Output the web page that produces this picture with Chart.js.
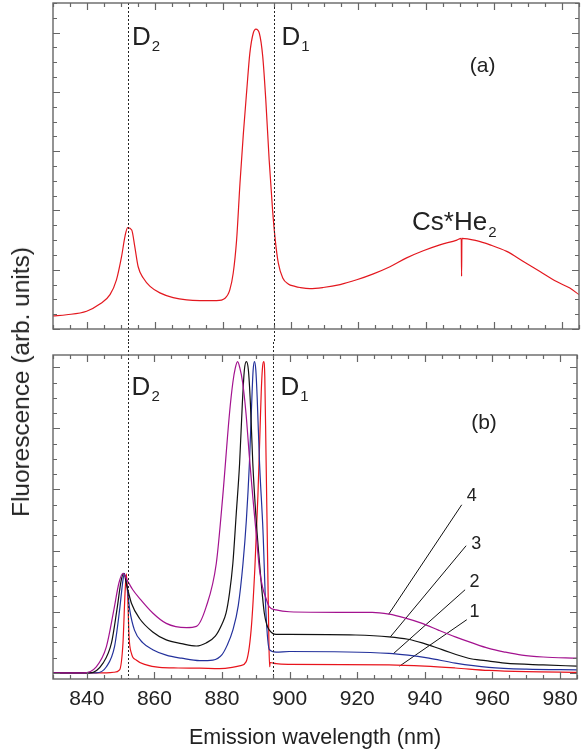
<!DOCTYPE html>
<html>
<head>
<meta charset="utf-8">
<script src="https://cdn.jsdelivr.net/npm/chart.js@4.4.1/dist/chart.umd.min.js"></script>
<style>
html,body{margin:0;padding:0;background:#fff;}
#wrap{position:relative;width:585px;height:755px;overflow:hidden;}
#cTop{position:absolute;left:0;top:0;}
#cBot{position:absolute;left:0;top:342px;}
#ytitle{position:absolute;left:21px;top:382px;transform:translate(-50%,-50%) rotate(-90deg);
  font:24.4px 'Liberation Sans',Arial,sans-serif;color:#222;white-space:nowrap;}
</style>
</head>
<body>
<div id="wrap">
  <canvas id="cTop" width="585" height="342"></canvas>
  <canvas id="cBot" width="585" height="413"></canvas>
  <div id="ytitle">Fluorescence (arb. units)</div>
</div>
<script>
'use strict';

/* ── DATA ────────────────────────────────────────────────── */
const X_MIN = 830, X_MAX = 985;
const X_LABELS = [840, 860, 880, 900, 920, 940, 960, 980];
const D2_NM = 852.1, D1_NM = 895.2;

// (a) measured spectrum
const A_NM  = [830, 834, 839.9, 843.8, 846.8, 848.7, 850.2, 851.2, 852.0, 853.2, 854.1, 855.1, 856.6, 858.6, 861.5,
               865.4, 869.4, 873.3, 878.2, 880.7, 882.1, 883.1, 884.1, 885.1, 886.1, 887.1, 888.0, 889.0, 889.8, 890.8,
               891.8, 892.7, 893.7, 894.7, 895.5, 896.4, 897.7, 899.3, 901.3, 902.8, 905.7, 909.6, 914.6, 919.5, 924.4,
               929.3, 934.2, 939.1, 944.0, 949.0, 950.3, 950.4, 950.5, 954.8, 958.8, 963.7, 968.6, 973.5, 978.4, 982.3, 985];
const A_VAL = [0.22, 0.24, 0.30, 0.42, 0.58, 0.83, 1.22, 1.56, 1.71, 1.67, 1.39, 1.05, 0.86, 0.72, 0.61,
               0.53, 0.49, 0.48, 0.48, 0.52, 0.66, 0.94, 1.50, 2.46, 3.30, 4.03, 4.65, 4.99, 5.06, 4.99,
               4.60, 3.87, 2.85, 2.01, 1.50, 1.11, 0.86, 0.76, 0.72, 0.70, 0.68, 0.70, 0.75, 0.83, 0.93,
               1.05, 1.20, 1.32, 1.42, 1.50, 1.53, 0.89, 1.53, 1.49, 1.42, 1.31, 1.14, 0.97, 0.80, 0.69, 0.58];

// (b) simulated curves 1..4
const C1_NM = [830, 845, 848, 849.7, 850.7, 851.3, 851.7, 852.1, 852.5, 853.2, 854.6, 857.6, 861.5, 867, 873.4,
               879.3, 883, 885.5, 887.1, 888.6, 889.7, 890.6, 891.2, 891.6, 891.95, 892.3, 892.65, 893.0, 893.5, 893.9,
               894.1, 894.2, 896, 900, 929.4, 940, 949, 958.9, 970, 985];
const C1_Y  = [0, 0, 0.01, 0.05, 0.49, 1.30, 1.62, 1.25, 0.59, 0.32, 0.21, 0.13, 0.09, 0.08, 0.077,
               0.07, 0.09, 0.12, 0.18, 0.70, 1.7, 2.88, 3.9, 4.6, 4.98, 5.09, 4.85, 3.6, 1.8, 0.4,
               0.10, 0.17, 0.15, 0.14, 0.13, 0.11, 0.08, 0.04, 0.02, 0.01];

const C2_NM = [830, 842.8, 845.8, 848.2, 849.7, 850.7, 851.1, 851.9, 852.7, 854.1, 856.6, 859.5, 863.5, 868, 873.4,
               877.3, 880, 881.5, 883.2, 884.8, 886.2, 887.2, 888.1, 888.9, 889.2, 889.6, 890.0, 890.4, 891.1, 892.1,
               893.0, 894.0, 896, 899.9, 929.4, 935, 941.2, 949, 958.9, 970, 985];
const C2_Y  = [0, 0, 0.10, 0.43, 1.03, 1.52, 1.63, 1.41, 1.03, 0.70, 0.49, 0.38, 0.29, 0.24, 0.20,
               0.21, 0.3, 0.45, 0.70, 1.1, 1.79, 2.5, 3.43, 4.6, 4.95, 5.09, 4.95, 4.5, 3.43, 2.34,
               0.98, 0.38, 0.34, 0.35, 0.32, 0.29, 0.24, 0.16, 0.09, 0.06, 0.05];

const C3_NM = [830, 840.9, 844.8, 847.3, 848.9, 850.2, 850.9, 851.9, 853.2, 855.6, 859.5, 863.5, 868, 872.4, 875.3,
               878, 880, 881.2, 882.2, 883.2, 884.2, 885.2, 886.0, 886.6, 887.2, 887.8, 888.4, 889.1, 890.1, 891.1,
               892.5, 893.3, 894.0, 896, 899.9, 919.5, 929.4, 935, 939.2, 945.1, 952.9, 958, 963.7, 975, 985];
const C3_Y  = [0, 0, 0.16, 0.49, 1.03, 1.52, 1.63, 1.41, 1.14, 0.89, 0.67, 0.54, 0.48, 0.44, 0.49,
               0.6, 0.8, 0.98, 1.3, 1.79, 2.6, 3.43, 4.4, 4.95, 5.09, 4.95, 4.4, 3.43, 2.5, 1.79,
               0.98, 0.78, 0.70, 0.63, 0.63, 0.62, 0.59, 0.55, 0.49, 0.38, 0.24, 0.20, 0.16, 0.13, 0.11];

const C4_NM = [830, 838.9, 842.8, 845.8, 848.0, 849.5, 850.7, 851.9, 853.6, 855.6, 859.5, 863.5, 869.5, 872.4, 875.3,
               878.3, 880.2, 882.2, 883.2, 883.9, 884.6, 885.3, 886.1, 887.1, 888.1, 889.1, 890.1, 891.1, 892.0, 893.0,
               894.0, 896, 899.9, 914.6, 924.4, 929.4, 934, 939.2, 944, 949, 954, 958.9, 963.7, 968.7, 975, 985];
const C4_Y  = [0, 0, 0.10, 0.43, 1.03, 1.47, 1.63, 1.52, 1.36, 1.22, 0.98, 0.81, 0.74, 0.76, 1.08,
               1.79, 2.88, 4.24, 4.75, 4.98, 5.09, 4.98, 4.75, 4.24, 3.53, 2.88, 2.28, 1.68, 1.40, 1.22,
               1.08, 1.03, 1.0, 0.99, 0.99, 0.96, 0.9, 0.81, 0.7, 0.59, 0.49, 0.40, 0.34, 0.29, 0.26, 0.24];

// leader lines for the curve numbers (curve 1..4)
const CURVE_NAMES  = ['1', '2', '3', '4'];
const LEAD_FROM_NM = [952.4, 951.9, 952.2, 950.9];
const LEAD_FROM_Y  = [0.87, 1.36, 2.08, 2.75];
const LEAD_TO_NM   = [932.5, 930.6, 929.8, 929.3];
const LEAD_TO_Y    = [0.11, 0.31, 0.59, 0.96];
const NAME_NM      = [954.7, 954.7, 955.2, 953.9];
const NAME_Y       = [0.99, 1.48, 2.11, 2.90];

/* ── HELPERS ─────────────────────────────────────────────── */
const FONT = "'Liberation Sans', Arial, sans-serif";
const pts = (xs, ys) => xs.map((v, i) => ({ x: v, y: ys[i] }));
const curve = (xs, ys, color) => ({
  data: pts(xs, ys), borderColor: color, borderWidth: 1.2, pointRadius: 0,
  cubicInterpolationMode: 'monotone', fill: false
});

/* ── FRAME, INNER TICKS, REFERENCE LINES, LABELS ─────────── */
const panelDeco = {
  id: 'panelDeco',
  afterDatasetsDraw(chart, args, o) {
    const { ctx, chartArea: a, scales: { x, y } } = chart;
    ctx.save();

    // dotted D2 / D1 lines, running through the gap between panels
    ctx.strokeStyle = '#222'; ctx.lineWidth = 1; ctx.setLineDash([2, 2]);
    [D2_NM, D1_NM].forEach(nm => {
      const px = Math.round(x.getPixelForValue(nm)) + 0.5;
      ctx.beginPath();
      ctx.moveTo(px, o.lineTop === 'edge' ? 0 : a.top);
      ctx.lineTo(px, o.lineBottom === 'edge' ? chart.height : a.bottom);
      ctx.stroke();
    });
    ctx.setLineDash([]);

    // frame
    ctx.strokeStyle = '#666'; ctx.lineWidth = 1.4;
    ctx.strokeRect(a.left, a.top, a.right - a.left, a.bottom - a.top);

    // inner ticks on all four sides
    ctx.lineWidth = 1.2;
    ctx.beginPath();
    for (let k = Math.ceil(x.min / 5); k * 5 <= x.max; k++) {
      const v = k * 5, px = Math.round(x.getPixelForValue(v)) + 0.5;
      const len = v % 20 === 0 ? 7 : 4;
      ctx.moveTo(px, a.bottom); ctx.lineTo(px, a.bottom - len);
      ctx.moveTo(px, a.top);    ctx.lineTo(px, a.top + len);
    }
    for (let k = Math.ceil(y.min / 0.25 - 1e-9); k * 0.25 <= y.max + 1e-9; k++) {
      const py = Math.round(y.getPixelForValue(k * 0.25)) + 0.5;
      const len = k % 4 === 0 ? 7 : 4;
      ctx.moveTo(a.left, py);  ctx.lineTo(a.left + len, py);
      ctx.moveTo(a.right, py); ctx.lineTo(a.right - len, py);
    }
    ctx.stroke();

    // text labels
    ctx.fillStyle = '#222';
    (o.texts || []).forEach(t => {
      const px = x.getPixelForValue(t.x), py = y.getPixelForValue(t.y);
      ctx.font = `${t.size}px ${FONT}`;
      ctx.textAlign = t.align || 'left';
      ctx.textBaseline = t.base || 'alphabetic';
      ctx.fillText(t.text, px, py);
      if (t.sub) {
        const w = ctx.measureText(t.text).width;
        ctx.font = `${t.subSize}px ${FONT}`;
        ctx.fillText(t.sub, px + w + 1, py + t.drop);
      }
    });
    ctx.restore();
  }
};

const baseOpts = (pad) => ({
  responsive: false, animation: false, devicePixelRatio: 1,
  layout: { padding: pad },
  plugins: { legend: { display: false }, tooltip: { enabled: false } },
  elements: { point: { radius: 0 } }
});

/* ── (a) ─────────────────────────────────────────────────── */
const optsA = baseOpts({ left: 53, right: 6, top: 3, bottom: 13 });
optsA.scales = {
  x: { type: 'linear', min: X_MIN, max: X_MAX, display: false },
  y: { type: 'linear', min: 0, max: 5.5, display: false }
};
optsA.plugins.panelDeco = {
  lineBottom: 'edge',
  texts: [
    { text: 'D', sub: '2', x: 853.25, y: 4.79, size: 26, subSize: 15, drop: 6 },
    { text: 'D', sub: '1', x: 897.3,  y: 4.79, size: 26, subSize: 15, drop: 6 },
    { text: '(a)', x: 956.6, y: 4.43, size: 21, align: 'center', base: 'middle' },
    { text: 'Cs*He', sub: '2', x: 935.8, y: 1.67, size: 26, subSize: 15, drop: 7 }
  ]
};
new Chart(document.getElementById('cTop'), {
  type: 'line',
  data: { datasets: [curve(A_NM, A_VAL, '#e3181f')] },
  options: optsA,
  plugins: [panelDeco]
});

/* ── (b) ─────────────────────────────────────────────────── */
const leaders = CURVE_NAMES.map((n, i) => ({
  data: [{ x: LEAD_FROM_NM[i], y: LEAD_FROM_Y[i] }, { x: LEAD_TO_NM[i], y: LEAD_TO_Y[i] }],
  borderColor: '#111', borderWidth: 1, pointRadius: 0, fill: false
}));

const optsB = baseOpts({ left: 53, right: 6, top: 13, bottom: 0 });
optsB.scales = {
  x: {
    type: 'linear', min: X_MIN, max: X_MAX,
    grid: { display: false, drawTicks: false },
    border: { display: false },
    ticks: {
      stepSize: 5, autoSkip: false, maxRotation: 0, padding: 8, color: '#222',
      font: { family: FONT, size: 21 },
      callback: v => X_LABELS.includes(v) ? String(v) : ''
    },
    title: {
      display: true, text: 'Emission wavelength (nm)', color: '#222',
      font: { family: FONT, size: 21.5 }, padding: { top: 0, bottom: 4 }
    },
    afterFit: s => { s.height = 76; }
  },
  y: { type: 'linear', min: -0.1, max: 5.2, display: false }
};
optsB.plugins.panelDeco = {
  lineTop: 'edge',
  texts: [
    { text: 'D', sub: '2', x: 853.25, y: 4.54, size: 26, subSize: 15, drop: 6 },
    { text: 'D', sub: '1', x: 897.3,  y: 4.54, size: 26, subSize: 15, drop: 6 },
    { text: '(b)', x: 957.5, y: 4.09, size: 21, align: 'center', base: 'middle' },
    ...CURVE_NAMES.map((n, i) => ({ text: n, x: NAME_NM[i], y: NAME_Y[i], size: 18, align: 'center', base: 'middle' }))
  ]
};
new Chart(document.getElementById('cBot'), {
  type: 'line',
  data: {
    datasets: [
      curve(C4_NM, C4_Y, '#a3128f'),
      curve(C3_NM, C3_Y, '#111111'),
      curve(C2_NM, C2_Y, '#23319c'),
      curve(C1_NM, C1_Y, '#e8141c'),
      ...leaders
    ]
  },
  options: optsB,
  plugins: [panelDeco]
});
</script>
</body>
</html>
